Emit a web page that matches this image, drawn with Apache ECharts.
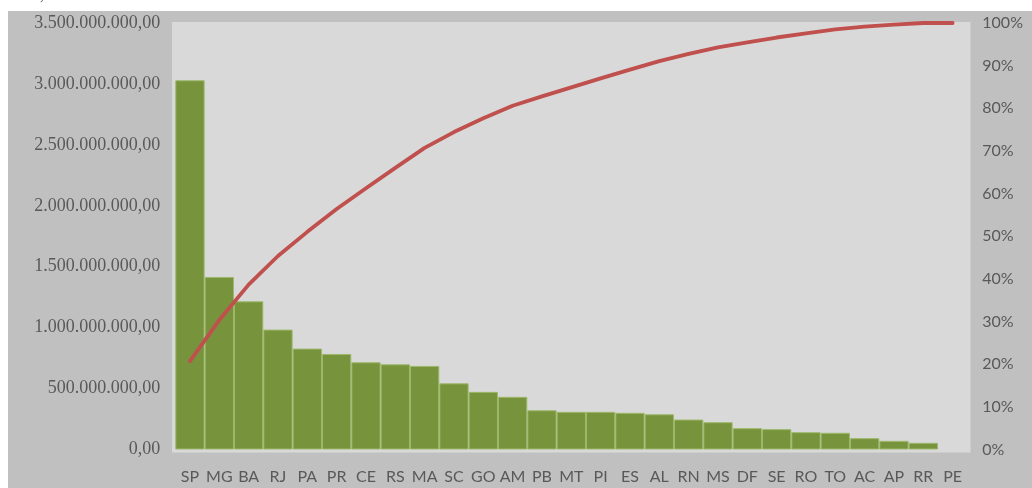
<!DOCTYPE html>
<html>
<head>
<meta charset="utf-8">
<script src="https://cdn.jsdelivr.net/npm/echarts@6/dist/echarts.min.js"></script>
<style>
  html, body { margin: 0; padding: 0; background: #ffffff; }
  #chart { width: 1032px; height: 488px; }
</style>
</head>
<body>
<div id="chart"></div>
<script>
// States ordered by amount (Pareto order)
const states = ['SP','MG','BA','RJ','PA','PR','CE','RS','MA','SC','GO','AM','PB','MT','PI','ES','AL','RN','MS','DF','SE','RO','TO','AC','AP','RR','PE'];

// Amount per state (R$)
const amounts = [
  3030000000, 1416000000, 1216000000, 984000000, 828000000, 784000000,
  716000000, 699000000, 686000000, 543000000, 473000000, 432000000,
  322000000, 309000000, 309000000, 301000000, 289000000, 246000000,
  224000000, 175000000, 167000000, 142000000, 137000000, 93000000,
  71000000, 55000000, 0
];

// Cumulative share (fraction of total)
const cumulativeShare = [
  0.207, 0.3035, 0.3866, 0.4537, 0.5103, 0.5638, 0.6127, 0.6604, 0.7072,
  0.7443, 0.7766, 0.8061, 0.8281, 0.8492, 0.8703, 0.8908, 0.9106, 0.9274,
  0.9427, 0.9546, 0.966, 0.9757, 0.985, 0.9914, 0.9962, 1.0, 1.0
];

// Left axis ticks: 0 .. 3.5 bi, every 500 mi
const leftMax = 3500000000;
const leftStep = 500000000;

function brl(v) {
  const fixed = Math.round(v).toString();
  const withDots = fixed.replace(/\B(?=(\d{3})+(?!\d))/g, '.');
  return withDots + ',00';
}

const chart = echarts.init(document.getElementById('chart'), null, { renderer: 'canvas' });

const GRID = { left: 175.3, right: 64.7, top: 23, bottom: 38.5 };

// zero-height bars are left out so no border stub is drawn
const barData = amounts.map(v => (v === 0 ? '-' : v));

chart.setOption({
  backgroundColor: '#ffffff',
  animation: false,
  graphic: [
    { type: 'rect', z: -10, silent: true,
      shape: { x: 8, y: 11, width: 1024, height: 477 },
      style: { fill: '#c0c0c0' } },
    { type: 'rect', z: -9, silent: true,
      shape: { x: 172, y: 22, width: 798.5, height: 430.5 },
      style: { fill: '#d9d9d9' } },
    { type: 'text', z: -8, silent: true, left: 40, top: -12,
      style: { text: ',', font: '16px "Liberation Serif"', fill: '#595959' } }
  ],
  grid: GRID,
  xAxis: {
    type: 'category',
    data: states,
    boundaryGap: true,
    axisLine: { show: false },
    axisTick: { show: false },
    axisLabel: {
      interval: 0,
      margin: 19,
      color: '#595959',
      fontFamily: 'Lato',
      fontSize: 16
    }
  },
  yAxis: [
    {
      type: 'value',
      min: 0,
      max: leftMax,
      interval: leftStep,
      splitLine: { show: false },
      axisLine: { show: false },
      axisTick: { show: false },
      axisLabel: {
        margin: 15,
        padding: [5, 0, 0, 0],
        color: '#595959',
        fontFamily: 'Liberation Serif',
        fontSize: 18,
        formatter: brl
      }
    },
    {
      type: 'value',
      min: 0,
      max: 1,
      interval: 0.1,
      position: 'right',
      splitLine: { show: false },
      axisLine: { show: false },
      axisTick: { show: false },
      axisLabel: {
        margin: 15,
        padding: [5, 0, 0, 0],
        color: '#595959',
        fontFamily: 'Lato',
        fontSize: 16,
        formatter: v => Math.round(v * 100) + '%'
      }
    }
  ],
  series: [
    {
      type: 'bar',
      data: barData,
      barCategoryGap: '0%',
      itemStyle: {
        color: '#77933c',
        borderColor: '#9db86a',
        borderWidth: 1
      },
      z: 2
    },
    {
      type: 'line',
      yAxisIndex: 1,
      data: cumulativeShare,
      symbol: 'none',
      lineStyle: { color: '#c0504d', width: 3.8, cap: 'round', join: 'round' },
      z: 3
    }
  ]
});
</script>
</body>
</html>
